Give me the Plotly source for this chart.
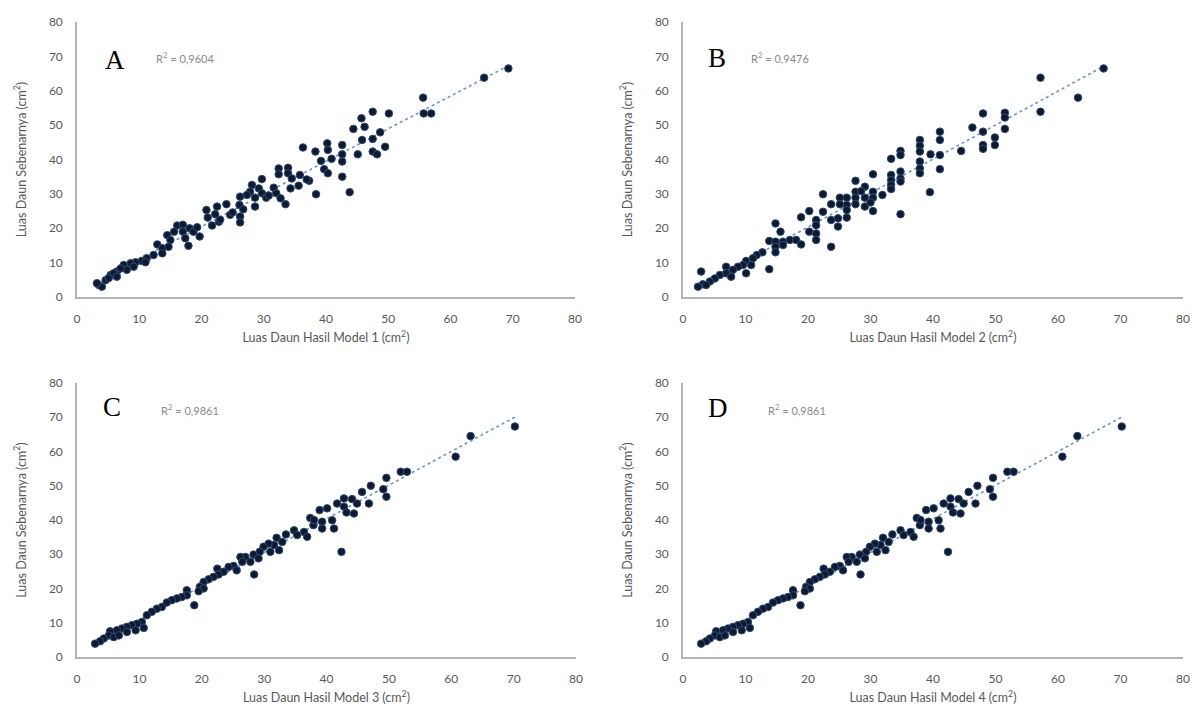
import numpy as np
import plotly.graph_objects as go

# ---------------- data ----------------
x_a = [69.3, 65.4, 55.6, 55.7, 56.9, 47.5, 50.1, 45.7, 44.4, 46.2, 48.7, 45.8, 47.5, 49.5, 45.1, 47.5, 48.2,
       36.3, 38.3, 40.2, 40.3, 42.6, 39.2, 40.9, 42.6, 42.6, 39.7, 40.3, 42.6, 43.8, 38.4,
       32.4, 33.9, 32.4, 33.9, 34.5, 35.8, 37.3, 35.6, 34.3, 29.7, 28.1, 29.2, 31.6, 27.8, 29.7, 30.4,
       32.0, 32.7, 33.5, 26.2, 27.3, 28.6, 26.1, 26.7, 28.6, 26.2, 26.2, 24.0, 22.5, 20.8, 22.2, 21.0,
       22.8, 21.7, 16.1, 17.0, 18.1, 15.6, 17.0, 18.7, 19.7, 14.5, 15.0, 17.4, 17.9, 12.9, 13.7, 14.7,
       13.7, 12.3, 11.2, 10.4, 9.4, 8.6, 7.5, 8.0, 6.4, 5.4, 4.6, 3.5, 4.0, 7.0, 5.9, 9.1, 11.0, 5.1,
       6.4, 3.2, 24.6, 19.3, 23.0, 25.0, 30.8, 36.9]
y_a = [66.5, 63.8, 58.0, 53.4, 53.4, 53.9, 53.4, 52.0, 48.9, 49.5, 47.9, 45.7, 46.0, 43.7, 41.5, 42.3, 41.5,
       43.5, 42.3, 44.7, 42.8, 44.2, 39.6, 40.2, 41.5, 39.4, 37.2, 36.0, 35.0, 30.5, 29.9,
       37.4, 37.6, 35.7, 36.0, 34.5, 35.5, 33.8, 32.4, 31.6, 34.3, 32.6, 31.6, 31.8, 30.6, 30.2, 28.9,
       30.2, 28.7, 27.0, 29.2, 29.7, 28.9, 26.8, 25.5, 26.3, 23.4, 21.7, 27.0, 26.3, 25.3, 24.1, 23.1,
       21.9, 20.8, 20.8, 21.0, 20.0, 19.0, 19.0, 19.0, 17.6, 18.0, 16.6, 17.1, 14.9, 15.3, 14.2, 14.6,
       12.7, 12.2, 11.3, 10.5, 10.1, 9.8, 9.3, 7.9, 7.4, 6.4, 4.9, 3.5, 3.0, 8.3, 6.9, 8.8, 10.1, 5.5,
       5.9, 4.0, 23.9, 20.3, 22.5, 24.6, 29.5, 34.2]

x_b = [67.3, 57.2, 63.2, 57.2, 48.0, 51.5, 51.5, 51.5, 46.3, 48.0, 49.9, 49.9, 48.0, 48.0, 44.5,
       41.1, 41.1, 41.1, 41.1, 39.6, 37.9, 37.9, 37.9, 37.9, 37.9, 37.9, 39.5,
       34.8, 34.8, 33.3, 34.8, 34.8, 34.8, 33.3, 33.3, 33.3, 33.3, 34.8,
       30.4, 30.4, 30.4, 30.4, 31.9, 27.6, 29.1, 27.6, 27.6, 29.1, 27.6, 29.1, 26.2, 26.2, 25.1, 25.1,
       23.7, 26.2, 22.4, 20.2, 22.4, 21.3, 18.9, 23.7, 24.8, 26.2, 24.8, 21.3, 20.2, 21.3, 21.3, 23.7,
       14.8, 15.6, 13.8, 14.8, 16.0, 17.1, 18.1, 18.9, 14.8, 16.0, 14.8, 13.8, 12.7, 11.8, 11.2,
       10.1, 10.9, 9.6, 10.1, 8.8, 8.0, 6.9, 6.9, 7.7, 5.9, 5.1, 4.3, 3.2, 2.4, 2.9, 3.7, 28.5, 30.0]
y_b = [66.5, 63.8, 58.0, 53.9, 53.4, 53.6, 52.2, 48.9, 49.3, 48.1, 46.4, 44.2, 44.2, 43.1, 42.5,
       48.1, 45.7, 41.3, 37.2, 41.5, 45.7, 44.0, 42.3, 39.4, 37.4, 36.0, 30.5,
       42.5, 41.3, 40.2, 36.5, 34.5, 33.6, 35.5, 34.0, 32.6, 31.4, 24.1,
       35.7, 30.6, 28.9, 25.0, 29.7, 33.8, 32.1, 30.6, 28.9, 28.9, 27.0, 26.3, 28.9, 26.8, 28.9, 27.0,
       27.0, 25.3, 29.9, 25.0, 24.8, 22.4, 23.2, 22.4, 22.9, 23.1, 20.5, 20.9, 19.0, 18.5, 16.6, 14.6,
       21.4, 19.0, 16.3, 16.1, 16.1, 16.6, 16.6, 15.3, 14.6, 15.1, 13.0, 8.1, 13.0, 12.2, 11.3,
       10.5, 9.3, 9.3, 6.9, 8.8, 7.9, 8.8, 6.9, 5.9, 6.4, 5.4, 4.5, 3.7, 3.0, 7.4, 3.5, 30.8, 27.5]

x_c = [70.2, 63.1, 60.7, 51.9, 52.9, 49.6, 47.1, 49.1, 45.7, 49.6, 46.8,
       42.8, 44.1, 44.9, 41.7, 42.8, 44.4, 43.2, 40.1, 38.9, 37.4, 39.3, 40.9, 39.3, 41.2, 37.9, 42.4,
       34.8, 36.4, 35.3, 36.9, 32.0, 32.9, 31.6, 30.7, 29.9, 32.4, 31.0, 29.3, 28.3, 29.1, 27.0, 27.8,
       26.2, 26.5, 25.1, 24.3, 25.6, 23.5, 22.5, 22.7, 21.9, 21.1, 20.3, 19.7, 20.3, 19.5, 28.4, 18.8,
       17.6, 17.6, 16.8, 16.0, 15.2, 14.4, 13.6, 12.8, 12.0, 11.2, 10.4, 10.7, 9.6, 8.8, 8.0, 7.2, 6.4,
       5.3, 5.1, 5.9, 4.3, 3.7, 2.9, 6.7, 8.0, 9.4, 33.5, 38.0]
y_c = [67.3, 64.5, 58.5, 54.1, 54.1, 52.3, 50.0, 49.0, 48.2, 46.8, 44.8,
       46.3, 46.1, 44.8, 44.8, 43.9, 41.9, 42.2, 43.4, 42.9, 40.6, 39.5, 39.9, 37.5, 37.5, 38.5, 30.7,
       37.0, 36.5, 35.6, 35.1, 34.8, 33.6, 32.7, 33.1, 32.2, 31.2, 30.7, 30.7, 29.9, 28.8, 29.2, 27.8,
       29.2, 27.8, 26.6, 26.3, 25.3, 24.9, 25.8, 24.1, 23.4, 22.7, 21.9, 20.5, 20.0, 19.2, 24.1, 15.1,
       19.5, 18.0, 17.5, 17.1, 16.6, 15.9, 14.6, 14.1, 13.2, 12.2, 10.2, 8.5, 9.7, 9.3, 8.8, 8.3, 7.8,
       7.5, 6.3, 5.8, 5.4, 4.6, 3.9, 6.3, 7.3, 7.8, 35.8, 40.0]

x_d = [70.2, 63.1, 60.7, 51.9, 52.9, 49.6, 47.1, 49.1, 45.7, 49.6, 46.8,
       42.8, 44.1, 44.9, 41.7, 42.8, 44.4, 43.2, 40.1, 38.9, 37.4, 39.3, 40.9, 39.3, 41.2, 37.9, 42.4,
       34.8, 36.4, 35.3, 36.9, 32.0, 32.9, 31.6, 30.7, 29.9, 32.4, 31.0, 29.3, 28.3, 29.1, 27.0, 27.8,
       26.2, 26.5, 25.1, 24.3, 25.6, 23.5, 22.5, 22.7, 21.9, 21.1, 20.3, 19.7, 20.3, 19.5, 28.4, 18.8,
       17.6, 17.6, 16.8, 16.0, 15.2, 14.4, 13.6, 12.8, 12.0, 11.2, 10.4, 10.7, 9.6, 8.8, 8.0, 7.2, 6.4,
       5.3, 5.1, 5.9, 4.3, 3.7, 2.9, 6.7, 8.0, 9.4, 33.5, 38.0]
y_d = [67.3, 64.5, 58.5, 54.1, 54.1, 52.3, 50.0, 49.0, 48.2, 46.8, 44.8,
       46.3, 46.1, 44.8, 44.8, 43.9, 41.9, 42.2, 43.4, 42.9, 40.6, 39.5, 39.9, 37.5, 37.5, 38.5, 30.7,
       37.0, 36.5, 35.6, 35.1, 34.8, 33.6, 32.7, 33.1, 32.2, 31.2, 30.7, 30.7, 29.9, 28.8, 29.2, 27.8,
       29.2, 27.8, 26.6, 26.3, 25.3, 24.9, 25.8, 24.1, 23.4, 22.7, 21.9, 20.5, 20.0, 19.2, 24.1, 15.1,
       19.5, 18.0, 17.5, 17.1, 16.6, 15.9, 14.6, 14.1, 13.2, 12.2, 10.2, 8.5, 9.7, 9.3, 8.8, 8.3, 7.8,
       7.5, 6.3, 5.8, 5.4, 4.6, 3.9, 6.3, 7.3, 7.8, 35.8, 40.0]

panel_letters = ["A", "B", "C", "D"]
r2_labels = ["R<sup>2</sup> = 0,9604", "R<sup>2</sup> = 0,9476", "R<sup>2</sup> = 0,9861", "R<sup>2</sup> = 0,9861"]
x_titles = ["Luas Daun Hasil Model 1 (cm<sup>2</sup>)", "Luas Daun Hasil Model 2 (cm<sup>2</sup>)",
            "Luas Daun Hasil Model 3 (cm<sup>2</sup>)", "Luas Daun Hasil Model 4 (cm<sup>2</sup>)"]
y_title = "Luas Daun Sebenarnya (cm<sup>2</sup>)"
tick_vals = [0, 10, 20, 30, 40, 50, 60, 70, 80]

# ---------------- layout geometry ----------------
W, H = 1195, 713
xdoms = [(77 / W, 575 / W), (683 / W, 1183 / W), (77 / W, 576 / W), (683 / W, 1183 / W)]
ydoms = [(1 - 297 / H, 1 - 22 / H), (1 - 297 / H, 1 - 22 / H),
         (1 - 657 / H, 1 - 383 / H), (1 - 657 / H, 1 - 383 / H)]
letter_pos = [(6.1, 69.0), (5.4, 69.5), (5.6, 73.0), (5.6, 72.7)]
r2_pos = [(12.3, 69.6), (10.6, 69.8), (13.2, 72.2), (13.2, 72.2)]

datasets = [(x_a, y_a), (x_b, y_b), (x_c, y_c), (x_d, y_d)]

fig = go.Figure()
tick_font = dict(family="Lato, Open Sans, sans-serif", size=12, color="#595959")
title_font = dict(family="Lato, Open Sans, sans-serif", size=12.5, color="#595959")

for i, (xs, ys) in enumerate(datasets):
    n = i + 1
    xa = "x" if n == 1 else f"x{n}"
    ya = "y" if n == 1 else f"y{n}"
    xv = np.array(xs)
    yv = np.array(ys)
    slope, inter = np.polyfit(xv, yv, 1)
    lx = np.array([xv.min(), xv.max()])
    fig.add_trace(go.Scatter(x=lx, y=slope * lx + inter, mode="lines",
                             line=dict(color="#6f94c8", width=1.6, dash="dot"),
                             xaxis=xa, yaxis=ya, showlegend=False, hoverinfo="skip"))
    fig.add_trace(go.Scatter(x=xs, y=ys, mode="markers",
                             marker=dict(size=7.5, color="#0f1a2e",
                                         line=dict(color="#2c4a78", width=1)),
                             xaxis=xa, yaxis=ya, showlegend=False))
    axcommon = dict(range=[0, 80], tickvals=tick_vals, showgrid=False, zeroline=False,
                    showline=True, linecolor="#b4b4b4", linewidth=1.6, ticks="",
                    tickfont=tick_font, ticklabelstandoff=10, fixedrange=True,
                    automargin=False)
    fig.layout[f"xaxis{'' if n == 1 else n}"] = dict(
        domain=list(xdoms[i]), anchor=ya,
        title=dict(text=x_titles[i], font=title_font, standoff=8), **axcommon)
    fig.layout[f"yaxis{'' if n == 1 else n}"] = dict(
        domain=list(ydoms[i]), anchor=xa,
        title=dict(text=y_title, font=title_font, standoff=20), **axcommon)
    fig.add_annotation(x=letter_pos[i][0], y=letter_pos[i][1], xref=xa, yref=ya,
                       text=panel_letters[i], showarrow=False,
                       font=dict(family="Liberation Serif, Times New Roman, serif", size=27, color="#000000"))
    fig.add_annotation(x=r2_pos[i][0], y=r2_pos[i][1], xref=xa, yref=ya, xanchor="left",
                       text=r2_labels[i], showarrow=False,
                       font=dict(family="Lato, Open Sans, sans-serif", size=11, color="#8a8a8a"))

fig.update_layout(width=W, height=H, margin=dict(l=0, r=0, t=0, b=0),
                  plot_bgcolor="white", paper_bgcolor="white")

fig.write_html("out.html")
